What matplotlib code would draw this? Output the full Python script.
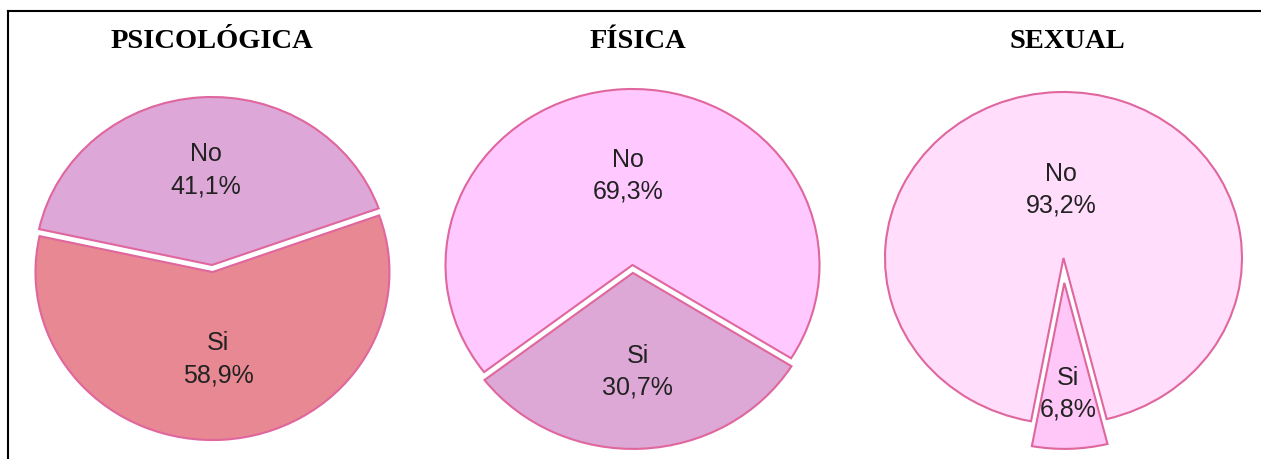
import numpy as np
import matplotlib
matplotlib.use("Agg")
import matplotlib.pyplot as plt
from matplotlib.lines import Line2D

# ---------------- data ----------------
titles = ["PSICOLÓGICA", "FÍSICA", "SEXUAL"]
categories = ["No", "Si"]
psicologica = [41.1, 58.9]
fisica = [69.3, 30.7]
sexual = [93.2, 6.8]
series = [psicologica, fisica, sexual]

# ---------------- style ----------------
W, H = 1261, 459
DPI = 100
colors = [["#DDA7D7", "#E88892"],
          ["#FFC9FF", "#DDA8D6"],
          ["#FFDDFB", "#FFC6F8"]]
edge = "#E0669E"
# pixel centre (x, y from top), radii in px
centers = [(212, 265), (632.5, 265), (1063.5, 258)]
radii = [(177, 168), (187, 176), (178.5, 166)]
explodes = [[0, 0.042], [0, 0.045], [0, 0.15]]
startangles = [19.7, -32.0, -76.0]
label_dist = [[0.565, 0.52], [0.51, 0.56], [0.41, 0.67]]
title_x = [212, 637.5, 1067.5]
title_y = 41

plt.rcParams["font.family"] = ["Liberation Sans", "DejaVu Sans"]
fig = plt.figure(figsize=(W / DPI, H / DPI), dpi=DPI)
fig.patch.set_facecolor("white")

L = 1.3
for i, vals in enumerate(series):
    cx, cy = centers[i]
    rx, ry = radii[i]
    left = (cx - L * rx) / W
    bottom = (H - cy - L * ry) / H
    ax = fig.add_axes([left, bottom, 2 * L * rx / W, 2 * L * ry / H])
    wedges, _ = ax.pie(vals, colors=colors[i], explode=explodes[i],
                       startangle=startangles[i], counterclock=True,
                       wedgeprops=dict(edgecolor=edge, linewidth=1.5))
    ax.set_aspect("auto")
    ax.set_xlim(-L, L)
    ax.set_ylim(-L, L)
    ax.axis("off")
    for j, w in enumerate(wedges):
        mid = np.deg2rad((w.theta1 + w.theta2) / 2)
        c = w.center
        d = label_dist[i][j]
        x = c[0] + d * np.cos(mid)
        y = c[1] + d * np.sin(mid)
        txt = f"{categories[j]}\n{vals[j]:.1f}%".replace(".", ",")
        ax.text(x, y, txt, ha="center", va="center", fontsize=18,
                color="#222222", linespacing=1.4)

    fig.text(title_x[i] / W, 1 - title_y / H, titles[i], ha="center",
             va="center", fontsize=20.5, fontweight="bold",
             family=["Liberation Serif", "DejaVu Serif"], color="black")

# outer frame (top and left edges visible)
fig.add_artist(Line2D([8 / W, 1.0], [1 - 11 / H, 1 - 11 / H],
                      transform=fig.transFigure, color="black", linewidth=1.5))
fig.add_artist(Line2D([8 / W, 8 / W], [0, 1 - 11 / H],
                      transform=fig.transFigure, color="black", linewidth=1.5))

fig.savefig("out.png", dpi=DPI, facecolor="white")
